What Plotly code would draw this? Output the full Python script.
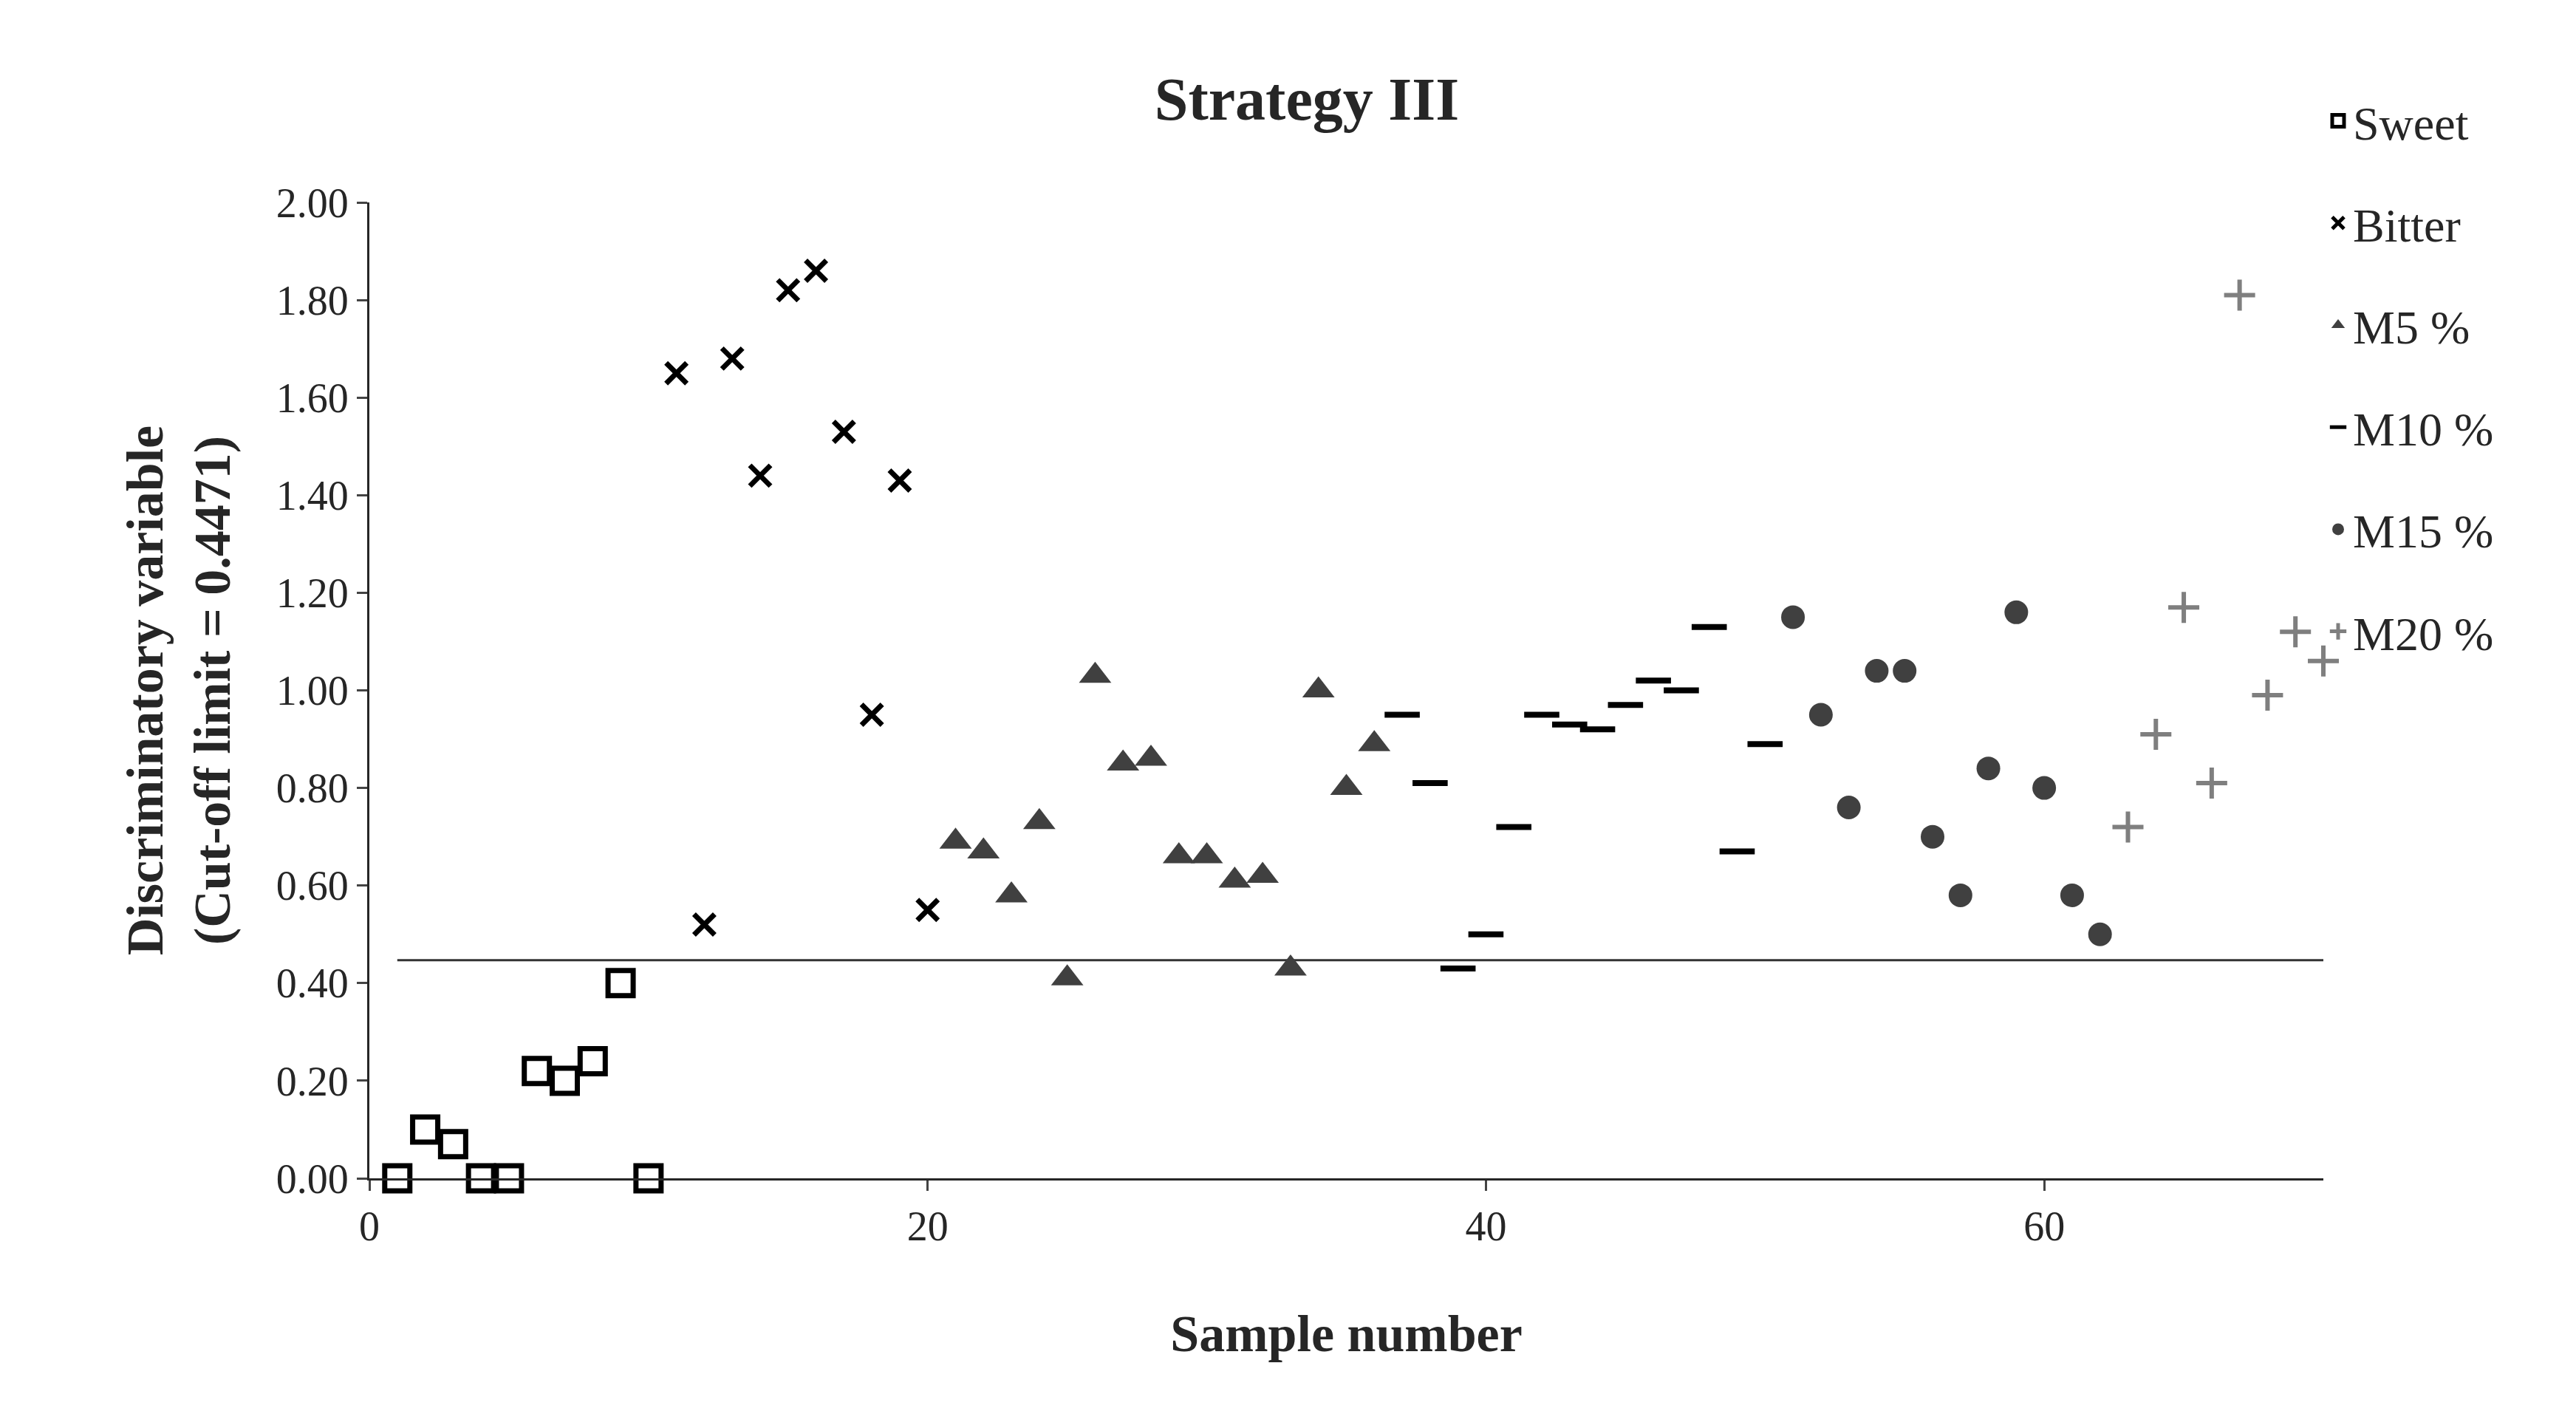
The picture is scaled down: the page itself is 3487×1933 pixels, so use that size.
import plotly.graph_objects as go

sweet_x = list(range(1, 11))
sweet_y = [0, 0.10, 0.07, 0, 0, 0.22, 0.20, 0.24, 0.40, 0]
bitter_x = list(range(11, 21))
bitter_y = [1.65, 0.52, 1.68, 1.44, 1.82, 1.86, 1.53, 0.95, 1.43, 0.55]
m5_x = list(range(21, 37))
m5_y = [0.69, 0.67, 0.58, 0.73, 0.41, 1.03, 0.85, 0.86, 0.66, 0.66, 0.61, 0.62, 0.43, 1.00, 0.80, 0.89]
m10_x = list(range(37, 51))
m10_y = [0.95, 0.81, 0.43, 0.50, 0.72, 0.95, 0.93, 0.92, 0.97, 1.02, 1.00, 1.13, 0.67, 0.89]
m15_x = list(range(51, 63))
m15_y = [1.15, 0.95, 0.76, 1.04, 1.04, 0.70, 0.58, 0.84, 1.16, 0.80, 0.58, 0.50]
m20_x = list(range(63, 71))
m20_y = [0.72, 0.91, 1.17, 0.81, 1.81, 0.99, 1.12, 1.06]
cutoff = 0.4471
cut_x = [1, 70]

F = "Liberation Serif"
fig = go.Figure()
fig.add_trace(go.Scatter(x=cut_x, y=[cutoff, cutoff], mode="lines", line=dict(color="#333", width=3), showlegend=False))
fig.add_trace(go.Scatter(x=sweet_x, y=sweet_y, mode="markers", name="Sweet", legendgroup="a",
    marker=dict(symbol="square-open", size=34, color="black", line=dict(width=7))))
fig.add_trace(go.Scatter(x=bitter_x, y=bitter_y, mode="markers", name="Bitter", legendgroup="b",
    marker=dict(symbol="x-thin-open", size=28, color="black", line=dict(width=7, color="black"))))
fig.add_trace(go.Scatter(x=m5_x, y=m5_y, mode="markers", name="M5 %", legendgroup="c",
    marker=dict(symbol="triangle-up", size=38, color="#404040")))
fig.add_trace(go.Scatter(x=m10_x, y=m10_y, mode="markers", name="M10 %", legendgroup="d",
    marker=dict(symbol="line-ew-open", size=34, color="black", line=dict(width=8, color="black"))))
fig.add_trace(go.Scatter(x=m15_x, y=m15_y, mode="markers", name="M15 %", legendgroup="e",
    marker=dict(symbol="circle", size=32, color="#404040")))
fig.add_trace(go.Scatter(x=m20_x, y=m20_y, mode="markers", name="M20 %", legendgroup="f",
    marker=dict(symbol="cross-thin-open", size=30, color="#7f7f7f", line=dict(width=6, color="#7f7f7f"))))
fig.update_traces(cliponaxis=False)

fig.update_layout(
    width=3487, height=1933, plot_bgcolor="white", paper_bgcolor="white",
    margin=dict(l=492, r=350, t=266, b=346),
    font=dict(family=F, color="#262626", size=56),
    title=dict(text="<b>Strategy III</b>", x=0.505, xanchor="center", y=0.935, yanchor="middle", font=dict(size=82, family=F)),
    legend=dict(x=1.0, xanchor="left", y=1.12, yanchor="top", font=dict(size=64, family=F),
                tracegroupgap=52, itemsizing="trace", bgcolor="rgba(0,0,0,0)"),
    xaxis=dict(range=[0, 70], tickvals=[0, 20, 40, 60], showgrid=False, zeroline=False,
               showline=True, linecolor="#262626", linewidth=3, ticks="outside", ticklen=14, tickwidth=3,
               title=dict(text="<b>Sample number</b>", font=dict(size=70), standoff=90)),
    yaxis=dict(range=[0, 2.0], tickvals=[i * 0.2 for i in range(11)], tickformat=".2f", showgrid=False,
               zeroline=False, showline=True, linecolor="#262626", linewidth=3, ticks="outside", ticklen=14, tickwidth=3,
               title=dict(text="<b>Discriminatory variable<br>(Cut-off limit = 0.4471)</b>", font=dict(size=70), standoff=40)),
)
fig.write_html("out.html")
